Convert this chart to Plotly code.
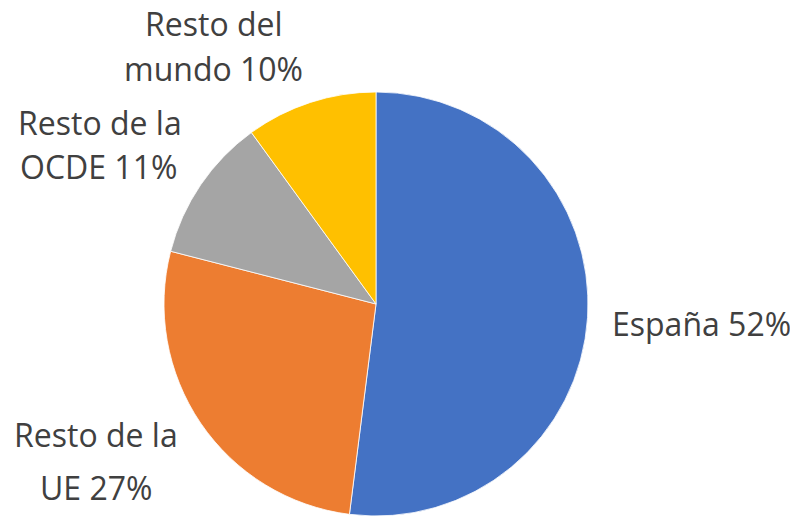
import plotly.graph_objects as go

categories = ["España", "Resto de la UE", "Resto de la OCDE", "Resto del mundo"]
values = [52, 27, 11, 10]
label_lines = [["España 52%"], ["Resto de la", "UE 27%"], ["Resto de la", "OCDE 11%"], ["Resto del", "mundo 10%"]]
colors = ["#4472C4", "#ED7D31", "#A5A5A5", "#FFC000"]

OFF = 8  # page body margin
W, H = 798 - OFF, 516 - OFF
cx, cy, r = 376 - OFF, 304 - OFF, 212

# label line centre positions (window pixels) per category
label_pos = [
    [(701, 323)],
    [(96, 434), (96, 487)],
    [(100, 122), (98, 166)],
    [(214, 24), (213, 68)],
]

fig = go.Figure(go.Pie(
    labels=categories, values=values, sort=False, direction="clockwise",
    rotation=0, textinfo="none", hoverinfo="label+percent",
    marker=dict(colors=colors, line=dict(color="white", width=0.8)),
    domain=dict(x=[(cx - r) / W, (cx + r) / W], y=[(H - cy - r) / H, (H - cy + r) / H]),
    showlegend=False,
))

for lines, poss in zip(label_lines, label_pos):
    for txt, (px, py) in zip(lines, poss):
        fig.add_annotation(x=(px - OFF) / W, y=1 - (py - OFF) / H, xref="paper", yref="paper",
                           text=txt, showarrow=False, xanchor="center", yanchor="middle",
                           font=dict(family="Open Sans", size=32, color="#404040"))

fig.update_layout(width=W, height=H, margin=dict(l=0, r=0, t=0, b=0),
                  paper_bgcolor="white", plot_bgcolor="white")
fig.write_html("out.html")
